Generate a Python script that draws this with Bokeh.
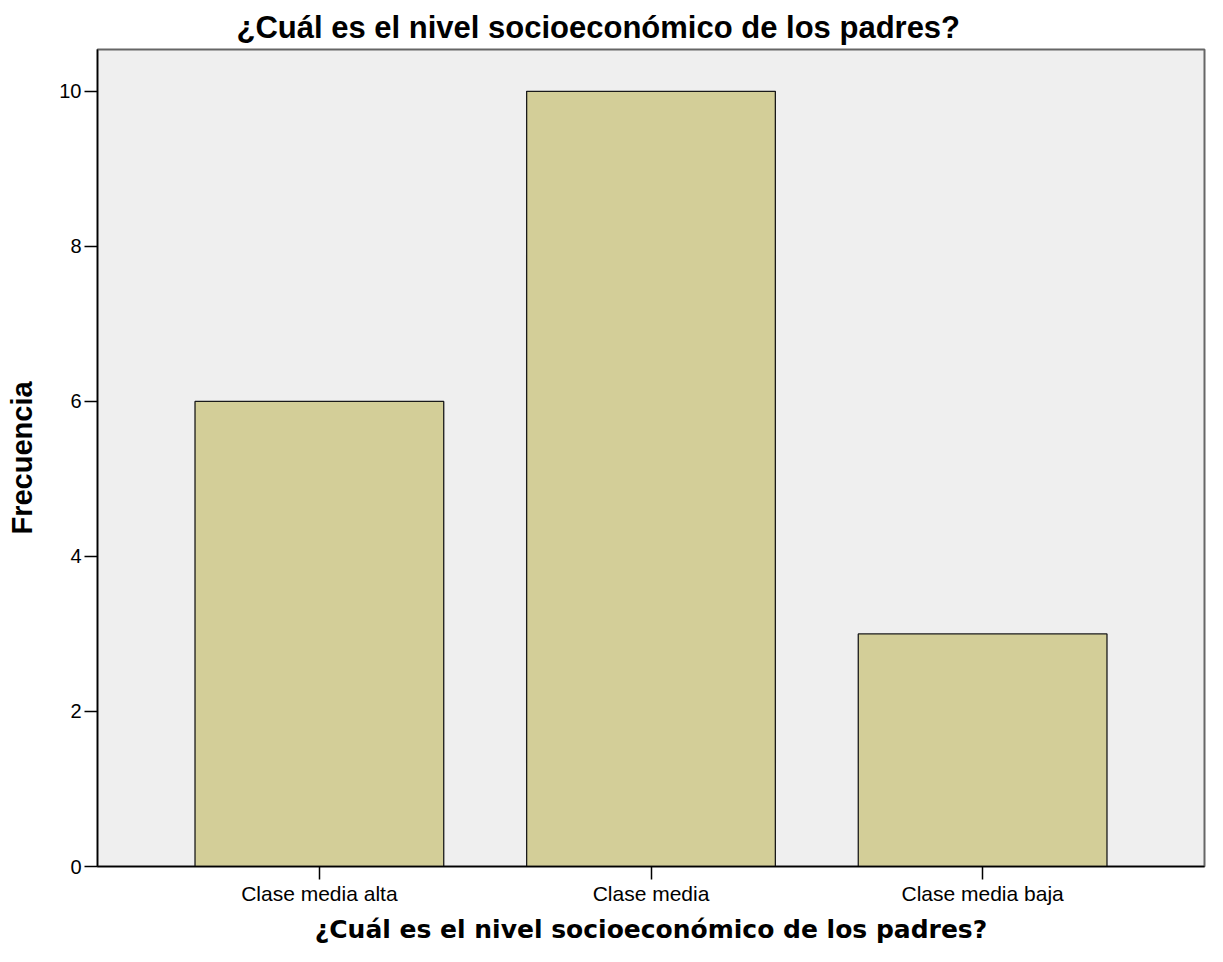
from bokeh.plotting import figure
from bokeh.models import FactorRange, Range1d, ColumnDataSource, FixedTicker
from bokeh.embed import file_html
from bokeh.resources import INLINE

categories = ["Clase media alta", "Clase media", "Clase media baja"]
frecuencia = [6, 10, 3]
y_ticks = [0, 2, 4, 6, 8, 10]

title_text = "¿Cuál es el nivel socioeconómico de los padres?"

source = ColumnDataSource(data=dict(cat=categories, val=frecuencia))

p = figure(
    width=1207, height=946,
    x_range=FactorRange(factors=categories, range_padding=0.1127, range_padding_units="percent"),
    y_range=Range1d(0, 10.54),
    output_backend="svg", toolbar_location=None,
    min_border_left=97, min_border_right=3, min_border_top=49, min_border_bottom=80,
    background_fill_color="#efefef", border_fill_color="white",
)

p.vbar(x="cat", top="val", width=0.75, source=source,
       fill_color="#d3ce98", line_color="#1a1a1a", line_width=1.3)

p.title.text = title_text
p.title.align = "left"
p.title.offset = 139
p.title.text_font = "Liberation Sans"
p.title.text_font_size = "31px"
p.title.text_font_style = "bold"
p.title.text_color = "#000000"

p.xgrid.visible = False
p.ygrid.visible = False
p.outline_line_color = "#666666"
p.outline_line_width = 2

p.yaxis.ticker = FixedTicker(ticks=y_ticks)
p.yaxis.minor_tick_line_color = None
p.yaxis.major_tick_out = 13
p.yaxis.major_tick_in = 0
p.yaxis.axis_line_color = "#000000"
p.yaxis.axis_line_width = 1.5
p.yaxis.major_tick_line_color = "#000000"
p.yaxis.major_tick_line_width = 1.5
p.yaxis.major_label_text_font = "Liberation Sans"
p.yaxis.major_label_text_font_size = "20px"
p.yaxis.major_label_text_color = "#000000"
p.yaxis.major_label_standoff = 3
p.yaxis.axis_label = "Frecuencia"
p.yaxis.axis_label_text_font = "Liberation Sans"
p.yaxis.axis_label_text_font_size = "29px"
p.yaxis.axis_label_text_font_style = "bold"
p.yaxis.axis_label_text_color = "#000000"
p.yaxis.axis_label_standoff = 18

p.xaxis.major_tick_out = 13
p.xaxis.major_tick_in = 0
p.xaxis.axis_line_color = "#000000"
p.xaxis.axis_line_width = 1.5
p.xaxis.major_tick_line_color = "#000000"
p.xaxis.major_tick_line_width = 1.5
p.xaxis.major_label_text_font = "Liberation Sans"
p.xaxis.major_label_text_font_size = "21px"
p.xaxis.major_label_text_color = "#000000"
p.xaxis.major_label_standoff = 2
p.xaxis.axis_label = title_text
p.xaxis.axis_label_text_font = "DejaVu Sans"
p.xaxis.axis_label_text_font_size = "25px"
p.xaxis.axis_label_text_font_style = "bold"
p.xaxis.axis_label_text_color = "#000000"
p.xaxis.axis_label_standoff = 7

open("out.html", "w").write(file_html(p, INLINE))
